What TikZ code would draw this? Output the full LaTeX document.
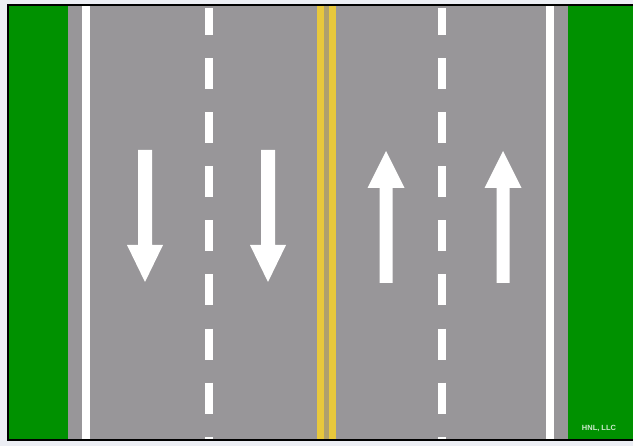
\documentclass[tikz,border=0pt]{standalone}
\usepackage{fontspec}
\setmainfont{Liberation Sans}
\definecolor{bgpale}{RGB}{236,238,244}
\definecolor{roadgrey}{RGB}{152,150,153}
\definecolor{grassgreen}{RGB}{0,145,0}
\definecolor{lineyellow}{RGB}{232,200,60}
\definecolor{midgap}{RGB}{175,160,110}
\tikzset{
  whiteline/.style={draw=white,line width=8pt},
  dashline/.style={draw=white,line width=8pt,dash pattern=on 31pt off 23.1pt,dash phase=4pt},
  yellowline/.style={draw=lineyellow,line width=7pt},
  lanearrow/.style={fill=white,draw=none}
}
\begin{document}
\begin{tikzpicture}[x=1pt,y=-1pt]
\useasboundingbox (0,0) rectangle (633,446);
\fill[bgpale] (0,0) rectangle (633,446);
% road
\fill[roadgrey] (8,5) rectangle (633,440);
% grass
\fill[grassgreen] (8,5) rectangle (68,440);
\fill[grassgreen] (568,5) rectangle (633,440);
% edge lines
\draw[whiteline] (86,5) -- (86,440);
\draw[whiteline] (550,5) -- (550,440);
% dashed lane lines
\draw[dashline] (208.5,8) -- (208.5,440);
\draw[dashline] (442,8) -- (442,440);
% double yellow centre line
\fill[midgap] (320,5) rectangle (333,440);
\draw[yellowline] (320.5,5) -- (320.5,440);
\draw[yellowline] (332.5,5) -- (332.5,440);
% down arrows
\foreach \cx in {145,268}{
  \fill[lanearrow] (\cx-7,150) -- (\cx+7,150) -- (\cx+7,245) -- (\cx+18,245)
    -- (\cx,282) -- (\cx-18,245) -- (\cx-7,245) -- cycle;
}
% up arrows
\foreach \cx in {386,503}{
  \fill[lanearrow] (\cx-6.5,283) -- (\cx+6.5,283) -- (\cx+6.5,188) -- (\cx+18.5,188)
    -- (\cx,151) -- (\cx-18.5,188) -- (\cx-6.5,188) -- cycle;
}
% frame
\draw[black,line width=2.5pt] (633,5) -- (8,5) -- (8,440) -- (633,440);
% credit
\node[text=white!80!grassgreen,font=\bfseries\fontsize{7.5}{8}\selectfont,inner sep=0pt] (credit) at (599,428) {HNL, LLC};
\end{tikzpicture}
\end{document}
